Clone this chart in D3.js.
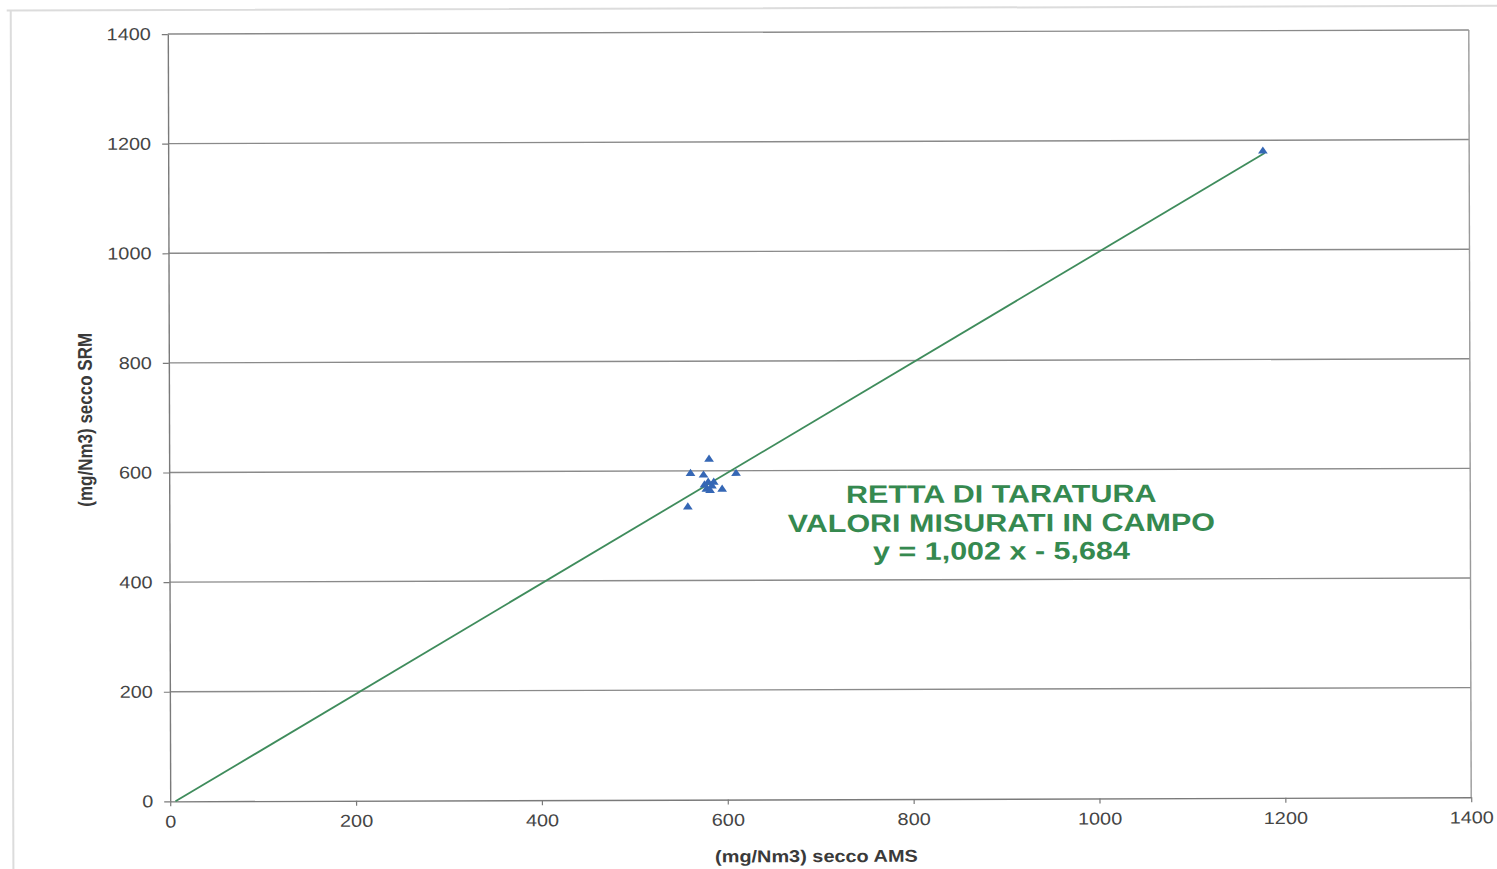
<!DOCTYPE html>
<html>
<head>
<meta charset="utf-8">
<script src="https://cdn.jsdelivr.net/npm/d3@7"></script>
<style>
  html, body { margin: 0; padding: 0; background: #fff; }
  svg { display: block; }
  text { font-family: "Liberation Sans", Arial, Helvetica, sans-serif; }
</style>
</head>
<body>
<svg id="chart" width="1497" height="869"></svg>
<script>
// Axis ticks
const xTicks = [0, 200, 400, 600, 800, 1000, 1200, 1400];
const yTicks = [0, 200, 400, 600, 800, 1000, 1200, 1400];

// Paired field measurements (mg/Nm3, dry): AMS reading vs SRM reference
const amsValues = [581, 561, 610, 575, 595, 558, 580, 584, 578, 582, 576, 586, 1178];
const srmValues = [621, 595, 595, 592, 566, 534, 579, 572, 566, 564, 574, 579, 1180];

// Calibration line coefficients
const fitSlope = 1.002;
const fitIntercept = -5.684;
const fitRange = [-fitIntercept / fitSlope, 1180];

// Texts
const noteLines = ["RETTA DI TARATURA", "VALORI MISURATI IN CAMPO", "y = 1,002 x - 5,684"];
const xTitle = "(mg/Nm3) secco AMS";
const yTitle = "(mg/Nm3) secco SRM";

const svg = d3.select("#chart");
svg.append("rect").attr("width", 1497).attr("height", 869).attr("fill", "#fff");

const sx = 1.17;            // horizontal stretch of lettering
const plot = { left: 169, right: 1470, top: 32, bottom: 799.3 };
const cx = (plot.left + plot.right) / 2, cy = (plot.top + plot.bottom) / 2;

const root = svg.append("g").attr("transform", `rotate(-0.18, ${cx}, ${cy})`);

// Outer chart frame
root.append("path")
  .attr("d", `M8,8 H1510 M12,8 V880`)
  .attr("fill", "none")
  .attr("stroke", "#dcdcdc")
  .attr("stroke-width", 2);

const x = d3.scaleLinear().domain([0, 1400]).range([plot.left, plot.right]);
const y = d3.scaleLinear().domain([0, 1400]).range([plot.bottom, plot.top]);

// Horizontal gridlines
root.append("g").selectAll("line")
  .data(yTicks.filter(d => d > 0))
  .join("line")
  .attr("x1", plot.left).attr("x2", plot.right)
  .attr("y1", d => y(d)).attr("y2", d => y(d))
  .attr("stroke", "#8a8a8a")
  .attr("stroke-width", 1.4);

// Right border of the plot area
root.append("line")
  .attr("x1", plot.right).attr("x2", plot.right)
  .attr("y1", plot.top).attr("y2", plot.bottom)
  .attr("stroke", "#9a9a9a").attr("stroke-width", 1.4);

// Axes
const fmt = d3.format("d");
const yAxis = root.append("g")
  .attr("transform", `translate(${plot.left},0)`)
  .call(d3.axisLeft(y).tickValues(yTicks).tickFormat(fmt).tickSize(6).tickSizeOuter(0));
const xAxis = root.append("g")
  .attr("transform", `translate(0,${plot.bottom})`)
  .call(d3.axisBottom(x).tickValues(xTicks).tickFormat(fmt).tickSize(5).tickSizeOuter(0));

[xAxis, yAxis].forEach(ax => {
  ax.select(".domain").attr("stroke", "#7a7a7a").attr("stroke-width", 1.4);
  ax.selectAll(".tick line").attr("stroke", "#7a7a7a").attr("stroke-width", 1.2);
  ax.selectAll(".tick text")
    .attr("font-size", 17)
    .attr("fill", "#454545")
    .attr("font-family", '"Liberation Sans", Arial, sans-serif');
});
yAxis.selectAll(".tick text")
  .attr("x", -17 / sx)
  .attr("transform", `scale(${sx},1)`);
xAxis.selectAll(".tick text")
  .attr("y", 14)
  .attr("transform", `scale(${sx},1)`);

// Axis titles
root.append("text")
  .attr("transform", `translate(815,862) scale(${sx},1)`)
  .attr("text-anchor", "middle")
  .attr("font-size", 17)
  .attr("font-weight", "bold")
  .attr("fill", "#3a3a3a")
  .text(xTitle);

root.append("text")
  .attr("transform", `translate(92,417.5) scale(${sx},1) rotate(-90)`)
  .attr("text-anchor", "middle")
  .attr("font-size", 17)
  .attr("font-weight", "bold")
  .attr("fill", "#3a3a3a")
  .text(yTitle);

// Calibration line
root.append("line")
  .attr("x1", x(fitRange[0])).attr("y1", y(fitSlope * fitRange[0] + fitIntercept))
  .attr("x2", x(fitRange[1])).attr("y2", y(fitSlope * fitRange[1] + fitIntercept))
  .attr("stroke", "#3f8c5c")
  .attr("stroke-width", 1.8);

// Measured points
const pts = amsValues.map((v, i) => ({ ams: v, srm: srmValues[i] }));
root.append("g").selectAll("path")
  .data(pts)
  .join("path")
  .attr("d", d3.symbol().type(d3.symbolTriangle).size(30))
  .attr("transform", d => `translate(${x(d.ams)},${y(d.srm)}) scale(${sx},1)`)
  .attr("fill", "#3567b5");

// Annotation
const noteStretch = 1.22;
const note = root.append("g").attr("transform", `translate(1001,0)`);
note.selectAll("text")
  .data(noteLines)
  .join("text")
  .attr("transform", (d, i) => `translate(0,${[503, 532, 560][i]}) scale(${noteStretch},1)`)
  .attr("text-anchor", "middle")
  .attr("font-size", 25)
  .attr("font-weight", "bold")
  .attr("fill", "#35894f")
  .text(d => d);
</script>
</body>
</html>
